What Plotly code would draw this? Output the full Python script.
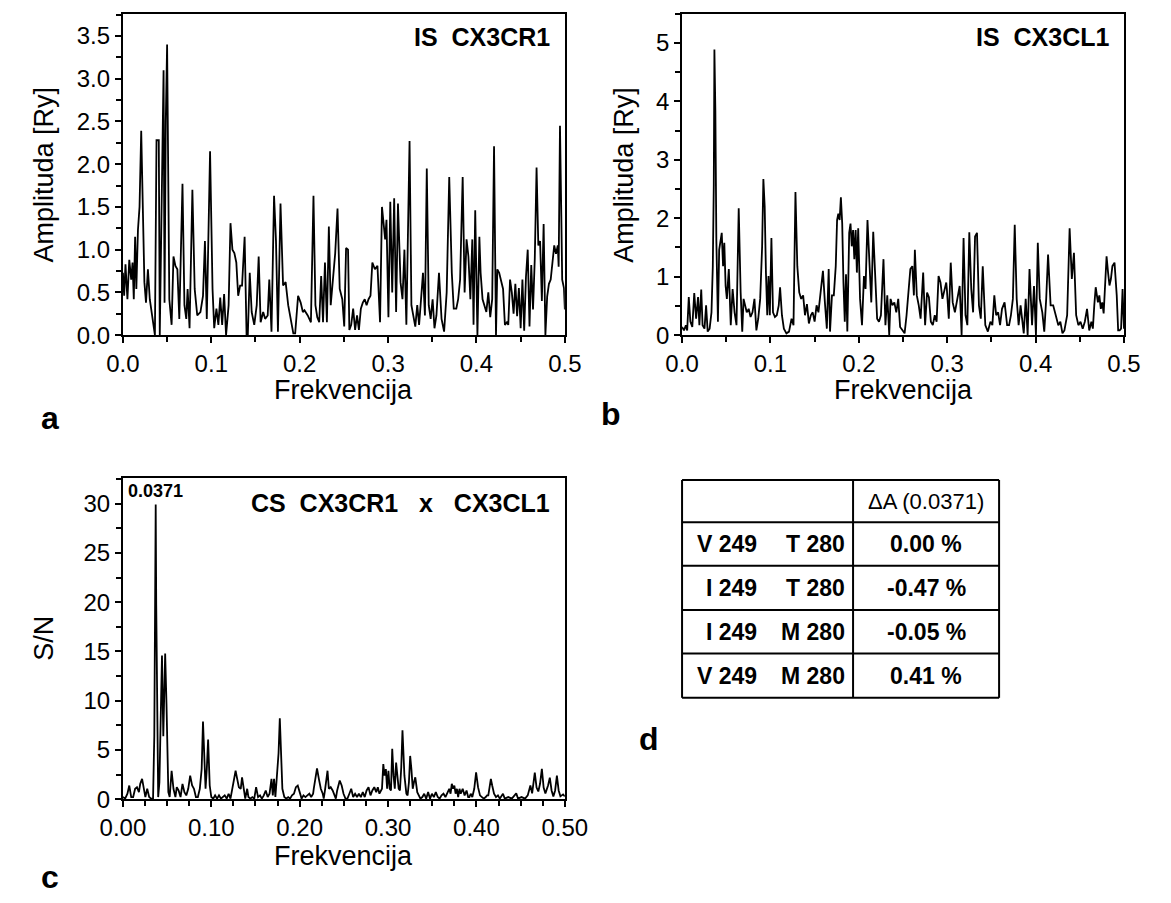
import plotly.graph_objects as go

# ---- Panel a: IS CX3CR1 (frequency, amplitude) ----
freq_a = [0.0000, 0.0014, 0.0029, 0.0051, 0.0072, 0.0094, 0.0109, 0.0123, 0.0138, 0.0152,
          0.0170, 0.0188, 0.0207, 0.0225, 0.0243, 0.0261, 0.0283, 0.0304, 0.0333, 0.0362,
          0.0380, 0.0406, 0.0417, 0.0435, 0.0460, 0.0471, 0.0485, 0.0500, 0.0514, 0.0525,
          0.0551, 0.0572, 0.0594, 0.0616, 0.0638, 0.0674, 0.0696, 0.0717, 0.0732, 0.0754,
          0.0786, 0.0812, 0.0841, 0.0877, 0.0906, 0.0928, 0.0949, 0.0986, 0.1014, 0.1033,
          0.1058, 0.1080, 0.1101, 0.1123, 0.1145, 0.1167, 0.1196, 0.1217, 0.1239, 0.1261,
          0.1283, 0.1304, 0.1326, 0.1348, 0.1377, 0.1399, 0.1413, 0.1435, 0.1457, 0.1486,
          0.1514, 0.1536, 0.1558, 0.1587, 0.1609, 0.1638, 0.1656, 0.1681, 0.1710, 0.1732,
          0.1754, 0.1783, 0.1812, 0.1841, 0.1870, 0.1899, 0.1928, 0.1949, 0.1982, 0.2011,
          0.2036, 0.2054, 0.2091, 0.2127, 0.2156, 0.2178, 0.2199, 0.2221, 0.2243, 0.2264,
          0.2286, 0.2308, 0.2330, 0.2351, 0.2380, 0.2402, 0.2428, 0.2453, 0.2482, 0.2504,
          0.2525, 0.2547, 0.2562, 0.2583, 0.2605, 0.2627, 0.2649, 0.2670, 0.2692, 0.2714,
          0.2736, 0.2757, 0.2779, 0.2801, 0.2822, 0.2851, 0.2880, 0.2909, 0.2931, 0.2953,
          0.2967, 0.2982, 0.3004, 0.3025, 0.3047, 0.3069, 0.3091, 0.3112, 0.3141, 0.3163,
          0.3185, 0.3207, 0.3243, 0.3264, 0.3286, 0.3308, 0.3330, 0.3351, 0.3373, 0.3395,
          0.3417, 0.3438, 0.3460, 0.3482, 0.3504, 0.3525, 0.3547, 0.3576, 0.3605, 0.3634,
          0.3663, 0.3692, 0.3721, 0.3743, 0.3772, 0.3793, 0.3815, 0.3844, 0.3866, 0.3888,
          0.3909, 0.3931, 0.3953, 0.3967, 0.3986, 0.4011, 0.4033, 0.4047, 0.4069, 0.4091,
          0.4112, 0.4134, 0.4156, 0.4178, 0.4199, 0.4221, 0.4236, 0.4257, 0.4279, 0.4301,
          0.4322, 0.4344, 0.4360, 0.4380, 0.4400, 0.4420, 0.4440, 0.4460, 0.4480, 0.4500,
          0.4520, 0.4540, 0.4560, 0.4580, 0.4600, 0.4620, 0.4640, 0.4660, 0.4680, 0.4700,
          0.4720, 0.4740, 0.4760, 0.4780, 0.4800, 0.4820, 0.4840, 0.4860, 0.4880, 0.4900,
          0.4920, 0.4930, 0.4945, 0.4960, 0.4970, 0.4990, 0.5000]
amp_a = [0.73, 0.46, 0.83, 0.42, 0.88, 0.65, 0.85, 0.42, 1.15, 0.54,
         1.23, 1.50, 2.39, 1.50, 0.62, 0.38, 0.77, 0.42, 0.19, 0.00,
         2.28, 2.28, 0.00, 1.10, 3.10, 0.38, 2.50, 3.40, 1.88, 0.42,
         0.12, 0.92, 0.81, 0.77, 0.19, 1.77, 0.35, 0.19, 0.54, 0.08,
         1.70, 0.54, 0.23, 0.27, 0.46, 1.10, 0.19, 2.15, 0.54, 0.08,
         0.31, 0.12, 0.44, 0.12, 0.48, 0.00, 0.35, 1.31, 1.00, 0.96,
         0.85, 0.46, 0.58, 0.58, 1.15, 0.00, 0.00, 0.73, 0.27, 0.12,
         0.35, 0.92, 0.15, 0.27, 0.19, 0.23, 0.65, 0.04, 1.63, 1.10,
         0.04, 1.54, 0.58, 0.62, 0.35, 0.19, 0.02, 0.02, 0.46, 0.38,
         0.27, 0.29, 0.23, 0.15, 1.63, 0.35, 0.21, 0.15, 0.69, 0.15,
         0.85, 0.15, 1.27, 0.35, 0.65, 0.96, 1.48, 0.54, 0.42, 0.10,
         1.02, 1.00, 0.06, 0.12, 0.31, 0.06, 0.23, 0.06, 0.31, 0.38,
         0.42, 0.35, 0.42, 0.46, 0.85, 0.77, 0.81, 0.15, 1.50, 1.27,
         1.12, 1.35, 0.21, 1.56, 0.50, 1.60, 0.27, 1.54, 0.62, 0.42,
         1.00, 0.12, 2.27, 0.35, 0.23, 0.10, 0.35, 0.12, 0.42, 0.73,
         0.23, 1.95, 0.35, 0.19, 0.42, 0.08, 0.23, 0.73, 0.19, 0.04,
         0.50, 1.85, 0.73, 0.31, 0.31, 0.42, 0.65, 1.85, 0.50, 1.12,
         0.92, 0.42, 1.12, 0.12, 1.46, 0.00, 1.15, 0.73, 0.42, 0.35,
         0.27, 0.50, 0.21, 0.42, 2.21, 0.00, 0.77, 0.73, 0.62, 0.54,
         0.12, 0.15, 0.12, 0.65, 0.50, 0.25, 0.60, 0.22, 0.55, 0.08,
         0.65, 0.05, 0.68, 1.00, 0.10, 0.82, 0.30, 0.90, 1.96, 1.05,
         1.10, 0.40, 1.30, 0.00, 0.45, 0.60, 0.65, 0.90, 1.05, 0.95,
         1.05, 0.80, 2.45, 1.40, 0.65, 0.55, 0.30]

# ---- Panel b: IS CX3CL1 ----
freq_b = [0.0000, 0.0022, 0.0043, 0.0058, 0.0076, 0.0094, 0.0116, 0.0138, 0.0159, 0.0181,
          0.0196, 0.0217, 0.0232, 0.0254, 0.0272, 0.0290, 0.0312, 0.0333, 0.0348, 0.0359,
          0.0366, 0.0377, 0.0388, 0.0406, 0.0420, 0.0435, 0.0449, 0.0464, 0.0478, 0.0493,
          0.0507, 0.0529, 0.0551, 0.0572, 0.0594, 0.0616, 0.0641, 0.0663, 0.0681, 0.0696,
          0.0710, 0.0732, 0.0754, 0.0775, 0.0797, 0.0819, 0.0841, 0.0862, 0.0884, 0.0906,
          0.0920, 0.0935, 0.0949, 0.0964, 0.0978, 0.0993, 0.1011, 0.1029, 0.1051, 0.1072,
          0.1094, 0.1109, 0.1130, 0.1152, 0.1181, 0.1210, 0.1239, 0.1261, 0.1283, 0.1304,
          0.1326, 0.1348, 0.1370, 0.1391, 0.1413, 0.1435, 0.1457, 0.1478, 0.1500, 0.1522,
          0.1543, 0.1565, 0.1594, 0.1616, 0.1638, 0.1659, 0.1674, 0.1696, 0.1717, 0.1739,
          0.1754, 0.1768, 0.1783, 0.1797, 0.1812, 0.1826, 0.1841, 0.1855, 0.1870, 0.1891,
          0.1906, 0.1920, 0.1935, 0.1949, 0.1964, 0.1978, 0.1993, 0.2014, 0.2036, 0.2058,
          0.2076, 0.2098, 0.2120, 0.2141, 0.2163, 0.2185, 0.2207, 0.2228, 0.2250, 0.2279,
          0.2301, 0.2322, 0.2344, 0.2359, 0.2380, 0.2402, 0.2424, 0.2446, 0.2467, 0.2496,
          0.2518, 0.2540, 0.2562, 0.2583, 0.2605, 0.2623, 0.2634, 0.2656, 0.2678, 0.2699,
          0.2728, 0.2750, 0.2772, 0.2793, 0.2815, 0.2837, 0.2859, 0.2880, 0.2902, 0.2924,
          0.2946, 0.2989, 0.2996, 0.3018, 0.3040, 0.3062, 0.3087, 0.3141, 0.3163, 0.3185,
          0.3207, 0.3228, 0.3250, 0.3272, 0.3293, 0.3315, 0.3337, 0.3359, 0.3380, 0.3402,
          0.3431, 0.3460, 0.3489, 0.3511, 0.3533, 0.3554, 0.3576, 0.3598, 0.3620, 0.3649,
          0.3678, 0.3700, 0.3721, 0.3743, 0.3764, 0.3786, 0.3808, 0.3830, 0.3866, 0.3888,
          0.3910, 0.3931, 0.3960, 0.3982, 0.4004, 0.4025, 0.4047, 0.4076, 0.4098, 0.4120,
          0.4141, 0.4170, 0.4199, 0.4228, 0.4257, 0.4280, 0.4304, 0.4326, 0.4357, 0.4385,
          0.4410, 0.4434, 0.4459, 0.4484, 0.4508, 0.4533, 0.4557, 0.4582, 0.4607, 0.4631,
          0.4648, 0.4664, 0.4680, 0.4705, 0.4721, 0.4738, 0.4754, 0.4770, 0.4787, 0.4803,
          0.4820, 0.4836, 0.4852, 0.4869, 0.4893, 0.4918, 0.4934, 0.4951, 0.4967, 0.4984,
          0.5000]
amp_b = [0.14, 0.08, 0.17, 0.08, 0.65, 0.23, 0.14, 0.72, 0.28, 0.65,
         0.17, 0.78, 0.17, 0.11, 0.51, 0.06, 0.11, 0.39, 1.18, 2.56,
         4.89, 3.83, 1.63, 0.23, 1.46, 1.63, 1.75, 1.18, 1.58, 0.84,
         0.62, 1.13, 0.17, 0.79, 0.39, 0.17, 2.17, 0.73, 0.06, 0.62,
         0.51, 0.39, 0.45, 0.31, 0.39, 0.62, 0.08, 0.28, 0.62, 1.52,
         2.67, 2.20, 1.07, 0.34, 1.01, 0.34, 1.66, 0.39, 0.31, 0.34,
         0.51, 0.82, 0.34, 0.11, 0.03, 0.06, 0.28, 0.17, 2.45, 1.18,
         0.73, 0.62, 0.68, 0.34, 0.53, 0.20, 0.34, 0.39, 0.23, 0.51,
         0.39, 0.68, 1.10, 0.56, 0.11, 1.13, 0.06, 0.68, 0.68, 1.18,
         1.97, 2.08, 1.97, 2.36, 1.91, 0.90, 0.23, 1.04, 0.06, 1.75,
         1.91, 1.52, 1.80, 1.30, 1.80, 1.07, 1.83, 0.62, 0.17, 1.01,
         0.79, 1.97, 1.13, 0.56, 1.77, 0.90, 0.28, 0.23, 0.34, 1.30,
         0.17, 0.68, 0.00, 0.62, 0.51, 0.56, 0.39, 0.62, 0.14, 0.08,
         0.03, 0.34, 0.73, 1.13, 1.18, 0.68, 1.46, 0.68, 0.51, 0.28,
         1.07, 0.17, 0.73, 0.65, 0.23, 0.17, 0.34, 0.23, 1.01, 0.90,
         0.62, 0.90, 0.79, 0.28, 1.24, 0.56, 0.39, 0.84, 0.00, 1.66,
         0.34, 0.17, 1.76, 0.79, 0.39, 1.69, 1.75, 0.51, 0.28, 1.18,
         0.17, 0.06, 0.23, 0.17, 0.68, 0.34, 0.39, 0.17, 0.45, 0.56,
         0.17, 0.17, 0.34, 0.62, 1.89, 0.62, 0.17, 0.51, 0.03, 0.62,
         0.00, 1.13, 0.17, 0.84, 0.00, 1.58, 0.62, 0.39, 0.06, 0.62,
         1.38, 0.51, 0.51, 0.34, 0.17, 0.23, 0.03, 0.08, 0.34, 1.83,
         0.96, 1.41, 0.34, 0.17, 0.23, 0.11, 0.23, 0.45, 0.08, 0.23,
         0.11, 0.51, 0.82, 0.56, 0.68, 0.45, 0.56, 0.37, 1.01, 1.35,
         1.07, 0.85, 0.96, 1.18, 1.24, 0.68, 0.08, 0.08, 0.11, 0.79,
         0.11, 0.08, 0.34, 0.17]

# ---- Panel c: CS CX3CR1 x CX3CL1 (signal-to-noise) ----
freq_c = [0.0000, 0.0025, 0.0051, 0.0072, 0.0094, 0.0116, 0.0138, 0.0159, 0.0181, 0.0196,
          0.0217, 0.0239, 0.0254, 0.0275, 0.0297, 0.0319, 0.0341, 0.0355, 0.0371, 0.0377,
          0.0388, 0.0399, 0.0413, 0.0428, 0.0442, 0.0457, 0.0467, 0.0478, 0.0493, 0.0504,
          0.0514, 0.0529, 0.0551, 0.0572, 0.0594, 0.0609, 0.0630, 0.0652, 0.0674, 0.0696,
          0.0717, 0.0739, 0.0761, 0.0783, 0.0804, 0.0826, 0.0848, 0.0870, 0.0891, 0.0906,
          0.0920, 0.0935, 0.0949, 0.0964, 0.0982, 0.1000, 0.1022, 0.1043, 0.1065, 0.1087,
          0.1109, 0.1130, 0.1152, 0.1174, 0.1196, 0.1217, 0.1239, 0.1261, 0.1275, 0.1293,
          0.1312, 0.1333, 0.1348, 0.1370, 0.1384, 0.1406, 0.1420, 0.1442, 0.1464, 0.1486,
          0.1507, 0.1529, 0.1551, 0.1572, 0.1594, 0.1616, 0.1638, 0.1659, 0.1681, 0.1696,
          0.1710, 0.1725, 0.1761, 0.1775, 0.1790, 0.1804, 0.1826, 0.1848, 0.1870, 0.1891,
          0.1913, 0.1935, 0.1957, 0.1978, 0.2000, 0.2022, 0.2043, 0.2065, 0.2087, 0.2109,
          0.2130, 0.2152, 0.2159, 0.2174, 0.2196, 0.2217, 0.2239, 0.2261, 0.2272, 0.2286,
          0.2301, 0.2315, 0.2330, 0.2351, 0.2373, 0.2395, 0.2409, 0.2424, 0.2438, 0.2453,
          0.2475, 0.2496, 0.2518, 0.2540, 0.2562, 0.2583, 0.2605, 0.2627, 0.2649, 0.2670,
          0.2692, 0.2714, 0.2736, 0.2757, 0.2779, 0.2801, 0.2822, 0.2844, 0.2866, 0.2884,
          0.2902, 0.2917, 0.2931, 0.2946, 0.2960, 0.2975, 0.2989, 0.3004, 0.3018, 0.3033,
          0.3047, 0.3062, 0.3076, 0.3091, 0.3105, 0.3120, 0.3134, 0.3149, 0.3163, 0.3185,
          0.3207, 0.3221, 0.3236, 0.3250, 0.3264, 0.3279, 0.3293, 0.3308, 0.3330, 0.3351,
          0.3366, 0.3388, 0.3409, 0.3431, 0.3453, 0.3475, 0.3496, 0.3518, 0.3540, 0.3562,
          0.3583, 0.3605, 0.3627, 0.3649, 0.3663, 0.3678, 0.3692, 0.3707, 0.3721, 0.3736,
          0.3750, 0.3764, 0.3779, 0.3793, 0.3808, 0.3822, 0.3844, 0.3866, 0.3888, 0.3906,
          0.3920, 0.3935, 0.3953, 0.3975, 0.3996, 0.4018, 0.4040, 0.4062, 0.4083, 0.4105,
          0.4120, 0.4134, 0.4149, 0.4163, 0.4178, 0.4199, 0.4221, 0.4243, 0.4264, 0.4300,
          0.4320, 0.4360, 0.4400, 0.4430, 0.4450, 0.4470, 0.4510, 0.4550, 0.4580, 0.4610,
          0.4630, 0.4660, 0.4680, 0.4700, 0.4720, 0.4740, 0.4760, 0.4780, 0.4810, 0.4830,
          0.4850, 0.4870, 0.4890, 0.4910, 0.4930, 0.4950, 0.4980, 0.5000]
sn_c = [0.23, 0.07, 0.57, 1.40, 0.23, 0.23, 1.07, 1.23, 0.73, 1.57,
        2.07, 0.73, 0.23, 1.07, 0.23, 0.07, 0.07, 6.40, 29.9, 19.7,
        4.70, 0.23, 1.73, 7.07, 14.6, 6.40, 9.70, 14.8, 9.70, 3.07,
        0.73, 0.23, 2.90, 1.07, 0.23, 1.23, 0.90, 0.23, 1.57, 0.73,
        0.40, 1.07, 2.40, 1.40, 1.07, 0.23, 0.23, 1.07, 3.07, 7.90,
        3.73, 1.07, 3.07, 6.07, 1.40, 0.23, 0.07, 0.40, 0.07, 0.40,
        0.07, 0.23, 0.40, 0.07, 0.57, 0.07, 1.07, 2.23, 2.90, 2.07,
        1.23, 1.07, 2.23, 0.90, 0.07, 1.07, 0.23, 0.07, 0.23, 0.07,
        1.23, 0.23, 0.40, 0.07, 0.40, 0.90, 0.23, 0.57, 2.07, 0.40,
        2.07, 0.23, 4.70, 8.23, 4.70, 1.07, 0.23, 0.07, 0.23, 0.07,
        0.40, 0.57, 1.23, 1.40, 0.73, 0.07, 0.40, 0.23, 0.40, 0.57,
        0.23, 0.57, 1.07, 2.07, 3.13, 2.07, 1.07, 0.57, 0.07, 0.90,
        1.90, 2.90, 1.07, 1.23, 0.90, 0.23, 0.07, 0.90, 1.57, 1.90,
        1.40, 0.57, 0.07, 0.07, 0.57, 1.07, 0.23, 0.57, 0.23, 0.57,
        0.23, 0.73, 0.23, 0.90, 1.23, 0.40, 0.90, 1.23, 0.73, 1.23,
        0.57, 0.90, 1.07, 3.57, 2.40, 3.07, 1.07, 2.90, 1.07, 0.90,
        5.13, 2.40, 1.07, 3.73, 2.40, 1.07, 0.90, 3.23, 7.00, 2.40,
        0.57, 0.40, 1.73, 4.40, 3.07, 1.07, 1.73, 2.23, 0.73, 0.23,
        0.07, 0.23, 0.57, 0.07, 0.73, 0.07, 0.57, 0.23, 0.73, 0.23,
        0.07, 0.40, 0.57, 0.23, 0.57, 0.73, 1.07, 0.57, 1.57, 1.07,
        1.40, 0.57, 1.07, 0.23, 1.07, 0.57, 1.07, 0.40, 0.90, 0.23,
        0.23, 0.57, 0.23, 1.07, 2.73, 1.23, 0.40, 0.23, 0.07, 0.23,
        0.40, 0.40, 1.07, 2.07, 1.40, 0.57, 0.23, 0.40, 0.07, 0.57,
        0.07, 0.23, 0.07, 0.40, 0.60, 0.07, 0.23, 0.07, 0.40, 1.40,
        0.60, 2.70, 1.20, 0.80, 1.60, 3.10, 1.20, 0.60, 1.40, 2.20,
        0.90, 0.30, 0.90, 2.40, 0.90, 0.30, 0.50, 0.30]

# ---- Panel d: table of amplitude changes at the common frequency ----
peak_freq = 0.0371
variant_249 = ["V 249", "I 249", "I 249", "V 249"]
variant_280 = ["T 280", "T 280", "M 280", "M 280"]
delta_a = ["0.00 %", "-0.47 %", "-0.05 %", "0.41 %"]

FONT = "Liberation Sans, Arial, Helvetica, sans-serif"
W, H = 1171, 903


def px_x(v):
    return v / W


def px_y(v):
    return 1 - v / H


fig = go.Figure()
line_style = dict(color="black", width=1.8)
fig.add_trace(go.Scatter(x=freq_a, y=amp_a, mode="lines", line=line_style,
                         xaxis="x", yaxis="y", showlegend=False, hoverinfo="skip"))
fig.add_trace(go.Scatter(x=freq_b, y=amp_b, mode="lines", line=line_style,
                         xaxis="x2", yaxis="y2", showlegend=False, hoverinfo="skip"))
fig.add_trace(go.Scatter(x=freq_c, y=sn_c, mode="lines", line=line_style,
                         xaxis="x3", yaxis="y3", showlegend=False, hoverinfo="skip"))

# plot areas in pixels: (left, right, top, bottom)
boxes = {
    "a": (104, 564, 14, 340),
    "b": (686, 1146, 14, 340),
    "c": (104, 564, 485, 811),
}

tick_font = dict(family=FONT, size=24, color="black")


def x_axis(box, fmt, anchor, minor_dt):
    l, r, t, b = box
    return dict(domain=[px_x(l), px_x(r)], range=[0, 0.5], anchor=anchor,
                showline=True, linecolor="black", linewidth=2, mirror=True,
                ticks="outside", ticklen=6, tickwidth=1.5, tickcolor="black",
                dtick=0.1, tick0=0, tickformat=fmt, tickfont=tick_font,
                minor=dict(dtick=minor_dt, ticks="outside", ticklen=5, tickwidth=1.5,
                           tickcolor="black", showgrid=False),
                showgrid=False, zeroline=False, fixedrange=True)


def y_axis(box, rng, dt, minor_dt, fmt, anchor):
    l, r, t, b = box
    return dict(domain=[px_y(b), px_y(t)], range=rng, anchor=anchor,
                showline=True, linecolor="black", linewidth=2, mirror=True,
                ticks="outside", ticklen=6, tickwidth=1.5, tickcolor="black",
                dtick=dt, tick0=0, tickformat=fmt, tickfont=tick_font,
                minor=dict(dtick=minor_dt, ticks="outside", ticklen=5, tickwidth=1.5,
                           tickcolor="black", showgrid=False),
                showgrid=False, zeroline=False, fixedrange=True)


fig.update_layout(
    width=W, height=H, margin=dict(l=0, r=0, t=0, b=0),
    paper_bgcolor="white", plot_bgcolor="white",
    font=dict(family=FONT, color="black"),
    xaxis=x_axis(boxes["a"], ".1f", "y", 0.05),
    yaxis=y_axis(boxes["a"], [0, 3.76], 0.5, 0.25, ".1f", "x"),
    xaxis2=x_axis(boxes["b"], ".1f", "y2", 0.05),
    yaxis2=y_axis(boxes["b"], [0, 5.5], 1, 0.5, "d", "x2"),
    xaxis3=x_axis(boxes["c"], ".2f", "y3", 0.025),
    yaxis3=y_axis(boxes["c"], [0, 32.6], 5, 2.5, "d", "x3"),
)

ann = []


def text(x, y, s, size, bold=False, xanchor="center", yanchor="middle", angle=0):
    ann.append(dict(x=px_x(x), y=px_y(y), xref="paper", yref="paper", text=s,
                    showarrow=False, xanchor=xanchor, yanchor=yanchor, textangle=angle,
                    font=dict(family=FONT, size=size, color="black",
                              weight="bold" if bold else "normal")))


# axis titles
text(22, 177, "Amplituda [Ry]", 27, angle=-90)
text(626, 177, "Amplituda [Ry]", 27, angle=-90)
text(22, 648, "S/N", 27, angle=-90)
text(334, 396, "Frekvencija", 27)
text(916, 396, "Frekvencija", 27)
text(334, 869, "Frekvencija", 27)

# panel titles
text(551, 38, "IS\u00a0 CX3CR1", 25, bold=True, xanchor="right")
text(1133, 38, "IS\u00a0 CX3CL1", 25, bold=True, xanchor="right")
text(551, 510, "CS\u00a0 CX3CR1\u00a0\u00a0 x\u00a0\u00a0 CX3CL1", 25, bold=True, xanchor="right")

# peak label in panel c
ann.append(dict(x=peak_freq, y=30, xref="x3", yref="y3", text=f"{peak_freq:.4f}",
                showarrow=False, xanchor="center", yanchor="bottom", yshift=1,
                font=dict(family=FONT, size=18, color="black", weight="bold")))

# panel letters
text(28, 424, "a", 32, bold=True)
text(612, 420, "b", 32, bold=True)
text(28, 890, "c", 32, bold=True)
text(652, 750, "d", 32, bold=True)

# table
t_left, t_div, t_right = 686, 864, 1016
row_lines = [487, 530, 574, 619, 663, 708]
shapes = []
for yy in row_lines:
    shapes.append(dict(type="line", xref="paper", yref="paper",
                       x0=px_x(t_left), x1=px_x(t_right), y0=px_y(yy), y1=px_y(yy),
                       line=dict(color="black", width=2)))
for xx in (t_left, t_div, t_right):
    shapes.append(dict(type="line", xref="paper", yref="paper",
                       x0=px_x(xx), x1=px_x(xx), y0=px_y(row_lines[0]), y1=px_y(row_lines[-1]),
                       line=dict(color="black", width=2)))
fig.update_layout(shapes=shapes)

text((t_div + t_right) / 2, (row_lines[0] + row_lines[1]) / 2, "\u0394A (" + f"{peak_freq:.4f}" + ")", 22)
for i in range(4):
    yc = (row_lines[i + 1] + row_lines[i + 2]) / 2
    text(766, yc, variant_249[i], 23, bold=True, xanchor="right")
    text(858, yc, variant_280[i], 23, bold=True, xanchor="right")
    text((t_div + t_right) / 2, yc, delta_a[i], 23, bold=True)

fig.update_layout(annotations=ann)
fig.write_html("out.html")
